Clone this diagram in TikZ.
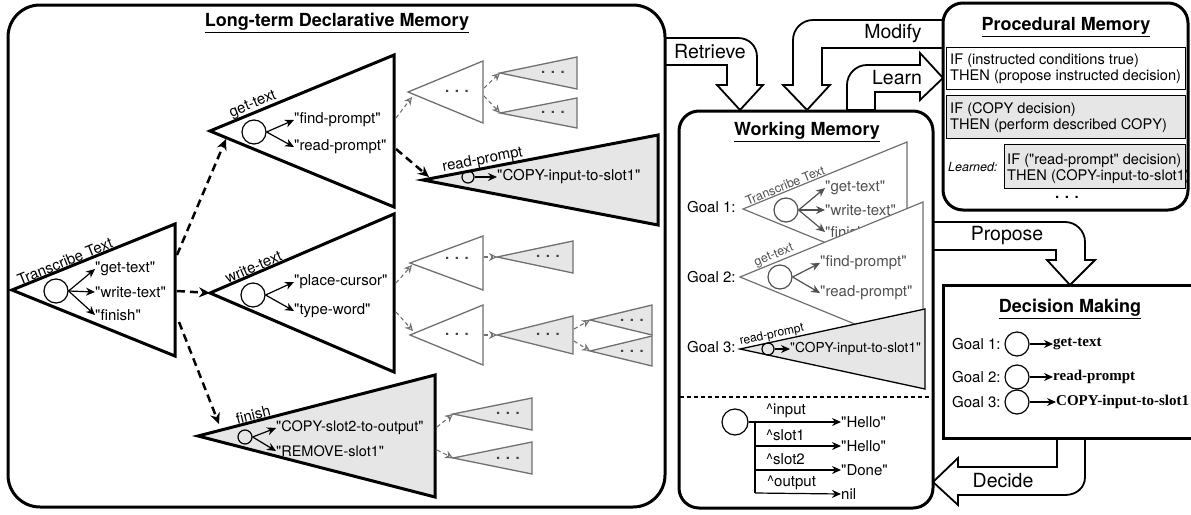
\documentclass[tikz,border=0pt]{standalone}
\usepackage{fontspec}
\newfontfamily\hv{TeX Gyre Heros}
\newfontfamily\tnrfont{Liberation Serif}
\usetikzlibrary{arrows.meta}
\definecolor{lg}{HTML}{E6E6E6}
\definecolor{dg}{HTML}{707070}
\definecolor{tg}{HTML}{505050}
\newcommand\fsz[1]{\fontsize{#1}{#1}\selectfont}
\newcommand\mytri[6]{\draw[#6] (#2,#3) coordinate (#1a) -- (#4,#3-#5) coordinate (#1t) -- (#4,#3+#5) coordinate (#1b) -- cycle;}
\tikzset{
 bigtri/.style={line width=3pt, draw=black, fill=white},
 bigtrig/.style={line width=3pt, draw=black, fill=lg},
 smtri/.style={line width=1.3pt, draw=dg, fill=white},
 smtrig/.style={line width=1.3pt, draw=dg, fill=lg},
 wmtri/.style={line width=1.2pt, draw=dg, fill=white},
 wmtrig/.style={line width=1.3pt, draw=black, fill=lg},
 lbl/.style={inner sep=0pt, anchor=west, font=\hv\fsz{15}},
 glbl/.style={lbl, text=tg},
 slbl/.style={sloped, above, inner sep=1pt, font=\hv\fsz{15}},
 ttl/.style={inner sep=0pt, font=\hv\fsz{18}\bfseries},
 dots/.style={inner sep=0pt, font=\hv\fsz{15}\bfseries, text=black!75},
 circ/.style={circle, draw, line width=1.2pt, inner sep=0pt, minimum size=#1},
 iarr/.style={-{Stealth[length=9pt,width=8pt]}, line width=1.2pt},
 giarr/.style={iarr, draw=tg},
 bdash/.style={line width=2.5pt, dash pattern=on 8pt off 5pt, -{Stealth[open,length=11pt,width=10pt]}},
 gdash/.style={draw=dg, line width=1.1pt, dash pattern=on 4pt off 3pt, -{Stealth[open,length=8pt,width=8pt]}},
 barrow/.style={draw=black, line width=1.8pt, fill=white},
 alb/.style={inner sep=0pt, font=\hv\fsz{19.5}},
 ptxt/.style={inner sep=0pt, anchor=west, font=\hv\fontsize{14.6}{16}\selectfont, align=left},
 dtxt/.style={inner sep=0pt, anchor=west, font=\tnrfont\fsz{15}\bfseries},
}
\begin{document}
\hv
\begin{tikzpicture}[x=1pt,y=-1pt]
\useasboundingbox (0,0) rectangle (1191,514);

% ---------- block arrows ----------
\draw[barrow] (665,38) -- (738,38) .. controls (749,38) and (757,46) .. (757,57) -- (757,85) -- (763,85) -- (740,110) -- (717,85) -- (727,85) -- (727,65) -- (665,65) -- cycle;
\node[alb] (retr) at (710,52) {Retrieve};
\draw[barrow] (943,20) -- (813,20) .. controls (802,20) and (793,29) .. (793,40) -- (793,85) -- (783,85) -- (807,110) -- (830,85) -- (822,85) -- (822,48) -- (943,48) -- cycle;
\node[alb] (modi) at (893,33) {Modify};
\draw[barrow] (847,110) -- (847,85) .. controls (847,74) and (856,65) .. (867,65) -- (920,65) -- (920,53) -- (943,78) -- (920,100) -- (920,92) -- (875,92) -- (875,110) -- cycle;
\node[alb] (lrn) at (897,78) {Learn};
\draw[barrow] (933,222) -- (1065,222) .. controls (1076,222) and (1085,231) .. (1085,242) -- (1085,260) -- (1095,260) -- (1070,285) -- (1047,260) -- (1056,260) -- (1056,250) -- (933,250) -- cycle;
\node[alb] (prop) at (1007,236) {Propose};
\draw[barrow] (1057,438) -- (1057,467) -- (958,467) -- (958,458) -- (933,482) -- (958,505) -- (958,495) -- (1065,495) .. controls (1076,495) and (1085,488) .. (1085,477) -- (1085,438) -- cycle;
\node[alb] (deci) at (1003,481) {Decide};

% ---------- Long-term declarative memory ----------
\draw[line width=3pt, rounded corners=32pt] (8,5) rectangle (665,507);
\node[ttl] (ltdm) at (337,23) {\underline{Long-term Declarative Memory}};

% Transcribe Text
\mytri{T}{12}{290}{175}{66}{bigtri}
\path (Ta) -- (Tt) node[slbl, pos=.34] (Tl) {Transcribe Text};
\node[circ=24pt] (Tc) at (56,291) {};
\node[lbl] (Tg) at (95,269) {"get-text"};
\node[lbl] (Tw) at (95,292) {"write-text"};
\node[lbl] (Tf) at (95,315) {"finish"};
\draw[iarr] (Tc.east) -- (Tg.west);
\draw[iarr] (Tc.east) -- (Tw.west);
\draw[iarr] (Tc.east) -- (Tf.west);

% get-text
\mytri{G}{210}{131}{394}{76}{bigtri}
\path (Ga) -- (Gt) node[slbl, pos=.25] (Gl) {get-text};
\node[circ=24pt] (Gc) at (254,132) {};
\node[lbl] (Gf) at (294,120) {"find-prompt"};
\node[lbl] (Gr) at (294,147) {"read-prompt"};
\draw[iarr] (Gc.east) -- (Gf.west);
\draw[iarr] (Gc.east) -- (Gr.west);

% write-text
\mytri{W}{210}{293}{394}{79}{bigtri}
\path (Wa) -- (Wt) node[slbl, pos=.25] (Wl) {write-text};
\node[circ=24pt] (Wc) at (253,295) {};
\node[lbl] (Wp) at (294,282) {"place-cursor"};
\node[lbl] (Wy) at (294,311) {"type-word"};
\draw[iarr] (Wc.east) -- (Wp.west);
\draw[iarr] (Wc.east) -- (Wy.west);

% finish
\mytri{F}{198}{436}{435}{61}{bigtrig}
\path (Fa) -- (Ft) node[slbl, pos=.24] (Fl) {finish};
\node[circ=14pt] (Fc) at (245,437) {};
\node[lbl, font=\hv\fsz{14.5}] (Fx) at (276,428) {"COPY-slot2-to-output"};
\node[lbl, font=\hv\fsz{14.5}] (Fy) at (276,451) {"REMOVE-slot1"};
\draw[iarr] (Fc.east) -- (Fx.west);
\draw[iarr] (Fc.east) -- (Fy.west);

% read-prompt
\mytri{R}{423}{180}{658}{45}{bigtrig}
\path (Ra) -- (Rt) node[slbl, pos=.26] (Rl) {read-prompt};
\node[circ=12pt] (Rc) at (468,177) {};
\node[lbl] (Rx) at (497,177) {"COPY-input-to-slot1"};
\draw[iarr] (Rc.east) -- (Rx.west);

% small grey sub-trees
\mytri{S}{408}{92}{483}{31}{smtri}
\node[dots] (Sd) at (457,91) {. . .};
\mytri{Sp}{500}{73}{577}{16}{smtrig}
\node[dots] (Spd) at (553,72) {. . .};
\mytri{Sq}{500}{113}{577}{15}{smtrig}
\node[dots] (Sqd) at (553,112) {. . .};

\mytri{U}{410}{263}{483}{27}{smtri}
\node[dots] (Ud) at (457,258) {. . .};
\mytri{Up}{497}{257}{573}{16}{smtrig}
\node[dots] (Upd) at (548,256) {. . .};
\mytri{V}{410}{335}{483}{30}{smtri}
\node[dots] (Vd) at (457,334) {. . .};
\mytri{Vp}{497}{335}{573}{19}{smtrig}
\node[dots] (Vpd) at (548,334) {. . .};
\mytri{Vq}{590}{320}{652}{15}{smtrig}
\node[dots] (Vqd) at (632,320) {. . .};
\mytri{Vr}{590}{351}{652}{15}{smtrig}
\node[dots] (Vrd) at (632,351) {. . .};

\mytri{X}{453}{414}{532}{16}{smtrig}
\node[dots] (Xd) at (508,413) {. . .};
\mytri{Y}{453}{458}{532}{16}{smtrig}
\node[dots] (Yd) at (508,458) {. . .};

% black dashed connectors
\coordinate (T1) at (177,255); \coordinate (G1) at (226,139);
\draw[bdash] (T1) -- (G1);
\coordinate (T2) at (177,291);
\draw[bdash] (T2) -- (Wa);
\coordinate (T3) at (179,322); \coordinate (F1) at (219,424);
\draw[bdash] (T3) -- (F1);
\coordinate (G2) at (396,149); \coordinate (R1) at (429,177);
\draw[bdash] (G2) -- (R1);

% grey dashed connectors
\coordinate (G3) at (396,118); \coordinate (S1) at (412,97);
\draw[gdash] (G3) -- (S1);
\coordinate (S2) at (484,88); \draw[gdash] (S2) -- (Spa);
\coordinate (S3) at (484,96); \draw[gdash] (S3) -- (Sqa);
\coordinate (W1) at (396,283); \coordinate (U1) at (412,265);
\draw[gdash] (W1) -- (U1);
\coordinate (W2) at (396,312); \coordinate (V1) at (413,331);
\draw[gdash] (W2) -- (V1);
\coordinate (U2) at (484,257); \draw[gdash] (U2) -- (Upa);
\coordinate (V2) at (484,335); \draw[gdash] (V2) -- (Vpa);
\coordinate (V3) at (574,329); \draw[gdash] (V3) -- (Vqa);
\coordinate (V4) at (574,341); \draw[gdash] (V4) -- (Vra);
\coordinate (F2) at (437,427); \draw[gdash] (F2) -- (Xa);
\coordinate (F3) at (437,450); \draw[gdash] (F3) -- (Ya);

% ---------- Working memory ----------
\draw[line width=3pt, rounded corners=20pt] (679,111) rectangle (933,508);
\node[ttl] (wmt) at (807,132) {\underline{Working Memory}};

\node[lbl] (g1) at (687,207) {Goal 1:};
\mytri{A}{743}{209}{907}{67}{wmtri}
\path (Aa) -- (At) node[slbl, pos=.27, font=\hv\fsz{12.5}, text=tg] (Al) {Transcribe Text};
\node[circ=24pt, draw=tg] (Ac) at (786,210) {};
\node[glbl] (Ag) at (825,188) {"get-text"};
\node[glbl] (Aw) at (825,210) {"write-text"};
\node[glbl] (Af) at (825,232) {"finish"};
\draw[giarr] (Ac.east) -- (Ag.west);
\draw[giarr] (Ac.east) -- (Aw.west);
\draw[giarr] (Ac.east) -- (Af.west);

\node[lbl] (g2) at (687,277) {Goal 2:};
\mytri{B}{740}{277}{923}{75}{wmtri}
\path (Ba) -- (Bt) node[slbl, pos=.2, font=\hv\fsz{12.5}, text=tg] (Bl) {get-text};
\node[circ=24pt, draw=tg] (Bc) at (780,277) {};
\node[glbl] (Bf) at (820,263) {"find-prompt"};
\node[glbl] (Br) at (820,293) {"read-prompt"};
\draw[giarr] (Bc.east) -- (Bf.west);
\draw[giarr] (Bc.east) -- (Br.west);

\node[lbl] (g3) at (687,347) {Goal 3:};
\mytri{C}{740}{349}{925}{40}{wmtrig}
\path (Ca) -- (Ct) node[slbl, pos=.18, font=\hv\fsz{12}] (Cl) {read-prompt};
\node[circ=12pt] (Cc) at (768,349) {};
\node[lbl, font=\hv\fsz{13.7}] (Cx) at (790,349) {"COPY-input-to-slot1"};
\draw[iarr] (Cc.east) -- (Cx.west);

\coordinate (dl) at (680,397); \coordinate (dr) at (932,397);
\draw[line width=1.2pt, dash pattern=on 4pt off 3pt] (dl) -- (dr);

\node[circ=26pt] (wc) at (735,422) {};
\coordinate (vt) at (755,422); \coordinate (vb) at (755,493);
\node[lbl] (h1) at (841,422) {"Hello"};
\node[lbl] (h2) at (841,446) {"Hello"};
\node[lbl] (h3) at (841,470) {"Done"};
\node[lbl] (h4) at (841,494) {nil};
\draw[iarr] (wc.east) -- (h1.west);
\draw[line width=1.2pt] (vt) -- (vb);
\draw[iarr] (vt |- h2.west) -- (h2.west);
\draw[iarr] (vt |- h3.west) -- (h3.west);
\draw[iarr] (vb) -- (h4.west);
\node[lbl] (s1) at (766,411) {\textasciicircum input};
\node[lbl] (s2) at (766,435) {\textasciicircum slot1};
\node[lbl] (s3) at (766,459) {\textasciicircum slot2};
\node[lbl] (s4) at (767,483) {\textasciicircum output};

% ---------- Procedural memory ----------
\draw[line width=3pt, rounded corners=20pt] (943,3) rectangle (1188,210);
\node[ttl] (pmt) at (1066,27) {\underline{Procedural Memory}};
\draw[line width=1pt, fill=white] (946,47) rectangle (1185,89);
\node[ptxt] (p1) at (950,69) {IF (instructed conditions true)\\THEN (propose instructed decision)};
\draw[line width=1pt, fill=lg] (946,95) rectangle (1185,138);
\node[ptxt] (p2) at (950,118) {IF (COPY decision)\\THEN (perform described COPY)};
\draw[line width=1pt, fill=lg] (1004,144) rectangle (1185,188);
\node[ptxt] (p3) at (1007,169) {IF ("read-prompt" decision)\\THEN (COPY-input-to-slot1)};
\node[inner sep=0pt, anchor=west, font=\hv\fsz{12.5}\itshape] (lrnd) at (948,167) {Learned:};
\node[dots, text=black] (pd) at (1067,197) {. . .};

% ---------- Decision making ----------
\draw[line width=3pt] (943,285) rectangle (1200,438);
\node[ttl] (dmt) at (1070,309) {\underline{Decision Making}};
\node[lbl] (d1) at (952,344) {Goal 1:};
\node[lbl] (d2) at (952,377) {Goal 2:};
\node[lbl] (d3) at (952,402) {Goal 3:};
\node[circ=24pt] (dc1) at (1017,344) {};
\node[circ=24pt] (dc2) at (1017,377) {};
\node[circ=24pt] (dc3) at (1017,402) {};
\node[dtxt] (dt1) at (1053,344) {get-text};
\node[dtxt] (dt2) at (1053,377) {read-prompt};
\node[dtxt] (dt3) at (1056,402) {COPY-input-to-slot1};
\draw[iarr] (dc1.east) -- (dt1.west);
\draw[iarr] (dc2.east) -- (dt2.west);
\draw[iarr] (dc3.east) -- (dt3.west);
\end{tikzpicture}
\end{document}
